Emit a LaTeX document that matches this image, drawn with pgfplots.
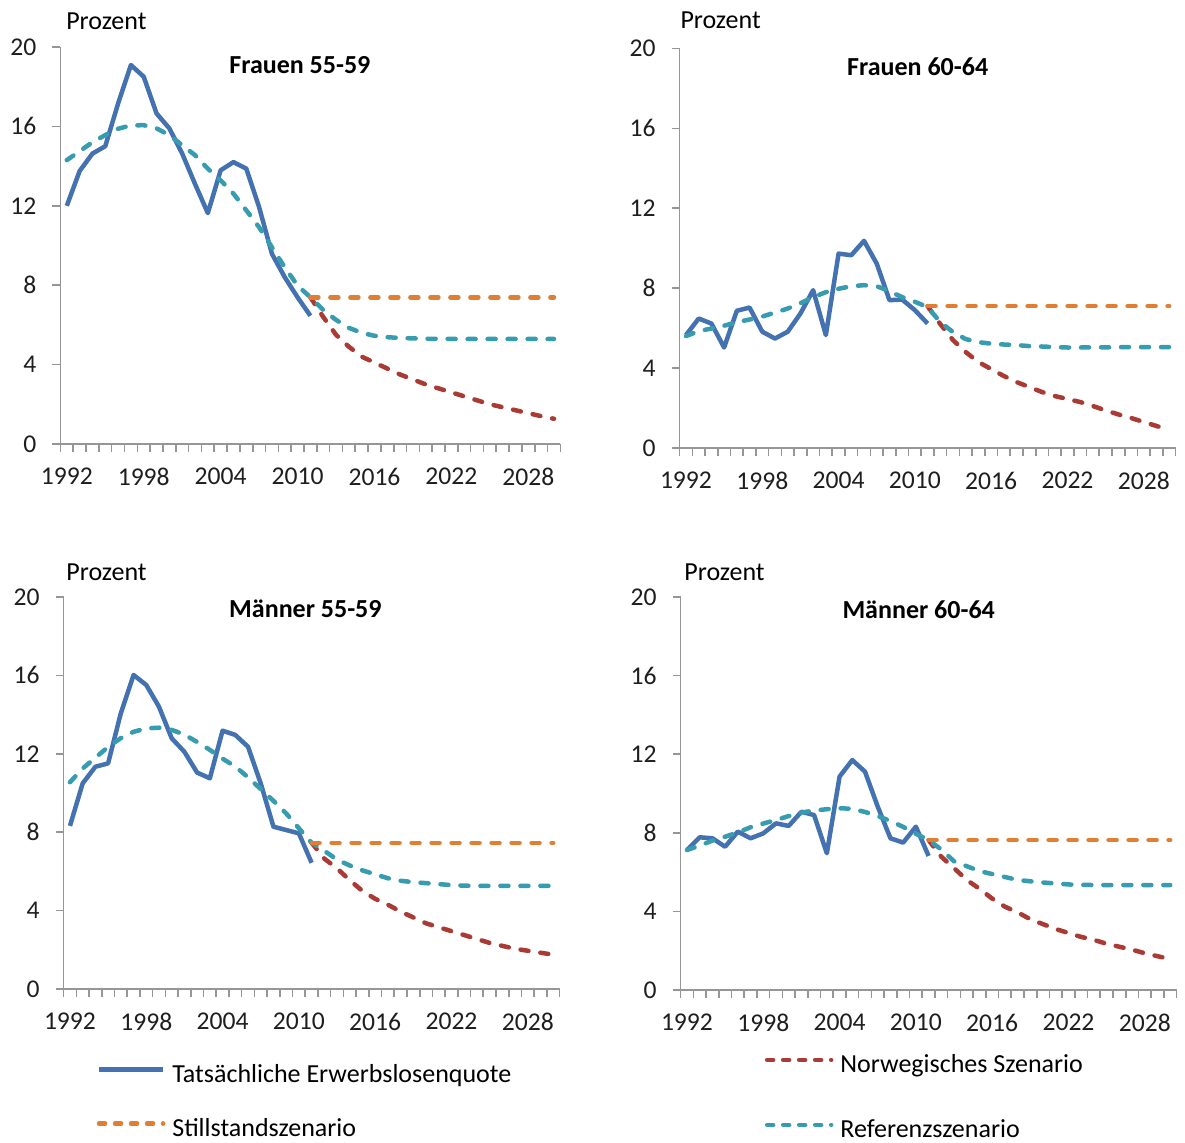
\documentclass[border=0pt]{standalone}
\usepackage{fontspec}
\setmainfont{Carlito}
\usepackage{pgfplots}
\pgfplotsset{compat=1.18}

\definecolor{cblue}{RGB}{68,114,176}
\definecolor{cred}{RGB}{170,58,52}
\definecolor{corange}{RGB}{226,126,50}
\definecolor{cteal}{RGB}{56,156,176}
\definecolor{axgray}{RGB}{150,150,150}
\definecolor{tickc}{RGB}{30,30,30}

\pgfplotsset{
  panel/.style={
    scale only axis, anchor=south west,
    xmin=1991.5, xmax=2030.5, ymin=0, ymax=20,
    axis lines=left, axis line style={-, draw=axgray, line width=0.8pt},
    tick align=outside,
    xtick={1991.5,1992.5,...,2030.5}, xticklabels={},
    extra x ticks={1992,1998,2004,2010,2016,2022,2028},
    extra x tick labels={1992,1998,2004,2010,2016,2022,2028},
    extra x tick style={major tick length=0pt},
    ytick={0,4,...,20}, yticklabels={0,4,8,12,16,20},
    major tick length=4pt,
    tick style={draw=axgray, line width=0.8pt},
    tick label style={font=\fontsize{12.8}{15}\selectfont, text=tickc},
    x tick label style={yshift=-8.5pt},
    y tick label style={xshift=-4.5pt},
    every axis title shift=0pt,
    title style={font=\fontsize{13}{15}\selectfont\bfseries, anchor=center},
    clip=false,
  },
  act/.style={cblue, line width=2.25pt, line join=round},
  scen/.style={line width=2.25pt, line cap=round, dash pattern=on 4pt off 6pt},
  nor/.style={scen, cred},
  still/.style={scen, corange},
  ref/.style={scen, cteal},
  legdash/.style={dash pattern=on 3pt off 5pt},
  leg/.style={
    legend style={draw=none, fill=none, inner sep=0pt, outer sep=0pt,
      anchor=north west, column sep=3.5pt,
      nodes={inner sep=0pt, text height=10pt, text depth=0pt},
      font=\fontsize{13}{15}\selectfont},
    legend cell align=left,
    legend image code/.code={\draw[##1] (0pt,1.5pt) -- (32pt,1.5pt);}},
}
\newcommand{\prozent}[2]{\node[anchor=west, inner sep=0pt, font=\fontsize{13}{15}\selectfont] at (axis description cs:#1,#2) {Prozent};}

\begin{document}
\begin{tikzpicture}
\useasboundingbox (0,0) rectangle (592.5pt,571.5pt);

% Frauen 55-59
\begin{axis}[panel, at={(30.2pt,349.5pt)}, width=250pt, height=198.5pt,
  title={Frauen 55-59}, title style={at={(0.479,0.955)}}]
\addplot[act] coordinates {(1992,12.0) (1993,13.75) (1994,14.63) (1995,15.0) (1996,17.15) (1997,19.09) (1998,18.5) (1999,16.65) (2000,15.9) (2001,14.63) (2002,13.1) (2003,11.63) (2004,13.79) (2005,14.2) (2006,13.87) (2007,11.93) (2008,9.58) (2009,8.4) (2010,7.39) (2011,6.46)};
\addplot[nor] coordinates {(2011,7.39) (2012,6.4) (2013,5.5) (2014,4.9) (2015,4.4) (2016,4.1) (2017,3.8) (2018,3.5) (2019,3.25) (2020,3.0) (2021,2.8) (2022,2.6) (2023,2.4) (2024,2.2) (2025,2.0) (2026,1.85) (2027,1.7) (2028,1.55) (2029,1.4) (2030,1.27)};
\addplot[ref] coordinates {(1992,14.3) (1993,14.75) (1994,15.2) (1995,15.56) (1996,15.88) (1997,16.05) (1998,16.06) (1999,15.9) (2000,15.56) (2001,15.05) (2002,14.55) (2003,13.87) (2004,13.28) (2005,12.61) (2006,11.77) (2007,10.92) (2008,9.91) (2009,8.9) (2010,7.98) (2011,7.39) (2012,6.75) (2013,6.25) (2014,5.85) (2015,5.6) (2016,5.45) (2017,5.38) (2018,5.34) (2019,5.32) (2020,5.3) (2021,5.3) (2022,5.29) (2023,5.29) (2024,5.29) (2025,5.29) (2026,5.29) (2027,5.29) (2028,5.29) (2029,5.29) (2030,5.29)};
\addplot[still] coordinates {(2011,7.39) (2030,7.39)};
\prozent{0.011}{1.064}
\end{axis}

% Frauen 60-64
\begin{axis}[panel, at={(339.8pt,347.5pt)}, width=248pt, height=199.75pt,
  title={Frauen 60-64}, title style={at={(0.48,0.955)}}]
\addplot[act] coordinates {(1992,5.65) (1993,6.48) (1994,6.23) (1995,5.03) (1996,6.87) (1997,7.03) (1998,5.82) (1999,5.48) (2000,5.82) (2001,6.73) (2002,7.9) (2003,5.65) (2004,9.73) (2005,9.65) (2006,10.37) (2007,9.23) (2008,7.4) (2009,7.43) (2010,6.9) (2011,6.23)};
\addplot[nor] coordinates {(2011,7.1) (2012,6.2) (2013,5.4) (2014,4.8) (2015,4.3) (2016,3.95) (2017,3.6) (2018,3.3) (2019,3.05) (2020,2.8) (2021,2.6) (2022,2.45) (2023,2.3) (2024,2.1) (2025,1.88) (2026,1.68) (2027,1.5) (2028,1.3) (2029,1.1) (2030,0.9)};
\addplot[ref] coordinates {(1992,5.6) (1993,5.85) (1994,5.98) (1995,6.12) (1996,6.3) (1997,6.43) (1998,6.58) (1999,6.78) (2000,6.98) (2001,7.25) (2002,7.55) (2003,7.8) (2004,7.97) (2005,8.1) (2006,8.15) (2007,8.1) (2008,7.85) (2009,7.55) (2010,7.32) (2011,7.05) (2012,6.3) (2013,5.8) (2014,5.45) (2015,5.3) (2016,5.22) (2017,5.18) (2018,5.15) (2019,5.1) (2020,5.08) (2021,5.05) (2022,5.03) (2023,5.03) (2024,5.04) (2025,5.04) (2026,5.05) (2027,5.05) (2028,5.05) (2029,5.05) (2030,5.05)};
\addplot[still] coordinates {(2011,7.1) (2030,7.1)};
\prozent{0.001}{1.071}
\end{axis}

% Maenner 55-59
\begin{axis}[panel, leg, at={(31.8pt,77pt)}, width=248pt, height=196pt,
  title={Männer 55-59}, title style={at={(0.4875,0.969)}},
  legend style={at={(0.067,-0.188)}, row sep=17pt}]
\addplot[act, forget plot] coordinates {(1992,8.32) (1993,10.49) (1994,11.34) (1995,11.51) (1996,14.07) (1997,16.02) (1998,15.51) (1999,14.4) (2000,12.79) (2001,12.1) (2002,11.04) (2003,10.75) (2004,13.18) (2005,12.96) (2006,12.36) (2007,10.49) (2008,8.28) (2009,8.11) (2010,7.94) (2011,6.44)};
\addplot[nor, forget plot] coordinates {(2011,7.46) (2012,6.65) (2013,6.15) (2014,5.55) (2015,5.0) (2016,4.6) (2017,4.3) (2018,3.95) (2019,3.65) (2020,3.35) (2021,3.15) (2022,2.95) (2023,2.75) (2024,2.55) (2025,2.35) (2026,2.2) (2027,2.05) (2028,1.95) (2029,1.85) (2030,1.75)};
\addplot[ref, forget plot] coordinates {(1992,10.55) (1993,11.25) (1994,11.8) (1995,12.35) (1996,12.8) (1997,13.12) (1998,13.3) (1999,13.33) (2000,13.22) (2001,12.98) (2002,12.6) (2003,12.2) (2004,11.75) (2005,11.35) (2006,10.8) (2007,10.2) (2008,9.6) (2009,8.96) (2010,8.2) (2011,7.46) (2012,7.05) (2013,6.6) (2014,6.3) (2015,6.05) (2016,5.85) (2017,5.65) (2018,5.52) (2019,5.45) (2020,5.4) (2021,5.35) (2022,5.3) (2023,5.27) (2024,5.26) (2025,5.26) (2026,5.26) (2027,5.26) (2028,5.26) (2029,5.26) (2030,5.26)};
\addplot[still, forget plot] coordinates {(2011,7.46) (2030,7.46)};
\addlegendimage{act}
\addlegendentry{Tatsächliche Erwerbslosenquote}
\addlegendimage{still, legdash}
\addlegendentry{Stillstandszenario}
\prozent{0.005}{1.064}
\end{axis}

% Maenner 60-64
\begin{axis}[panel, leg, at={(340.3pt,76.5pt)}, width=248pt, height=196.5pt,
  title={Männer 60-64}, title style={at={(0.48,0.967)}},
  legend style={at={(0.170,-0.160)}, row sep=22.5pt}]
\addplot[act, forget plot] coordinates {(1992,7.12) (1993,7.77) (1994,7.72) (1995,7.29) (1996,8.06) (1997,7.72) (1998,7.97) (1999,8.48) (2000,8.35) (2001,9.07) (2002,8.9) (2003,6.96) (2004,10.86) (2005,11.7) (2006,11.11) (2007,9.33) (2008,7.72) (2009,7.5) (2010,8.31) (2011,6.82)};
\addplot[nor, forget plot] coordinates {(2011,7.63) (2012,6.78) (2013,6.2) (2014,5.6) (2015,5.15) (2016,4.65) (2017,4.24) (2018,3.95) (2019,3.6) (2020,3.35) (2021,3.1) (2022,2.9) (2023,2.7) (2024,2.55) (2025,2.35) (2026,2.2) (2027,2.05) (2028,1.87) (2029,1.72) (2030,1.57)};
\addplot[ref, forget plot] coordinates {(1992,7.12) (1993,7.35) (1994,7.6) (1995,7.8) (1996,8.02) (1997,8.28) (1998,8.47) (1999,8.65) (2000,8.85) (2001,9.03) (2002,9.13) (2003,9.2) (2004,9.25) (2005,9.22) (2006,9.06) (2007,8.85) (2008,8.6) (2009,8.3) (2010,7.95) (2011,7.63) (2012,7.15) (2013,6.55) (2014,6.3) (2015,6.05) (2016,5.9) (2017,5.75) (2018,5.6) (2019,5.53) (2020,5.47) (2021,5.42) (2022,5.37) (2023,5.35) (2024,5.34) (2025,5.34) (2026,5.34) (2027,5.34) (2028,5.34) (2029,5.34) (2030,5.34)};
\addplot[still, forget plot] coordinates {(2011,7.63) (2030,7.63)};
\addlegendimage{nor, legdash}
\addlegendentry{Norwegisches Szenario}
\addlegendimage{ref, legdash}
\addlegendentry{Referenzszenario}
\prozent{0.007}{1.064}
\end{axis}
\end{tikzpicture}
\end{document}
